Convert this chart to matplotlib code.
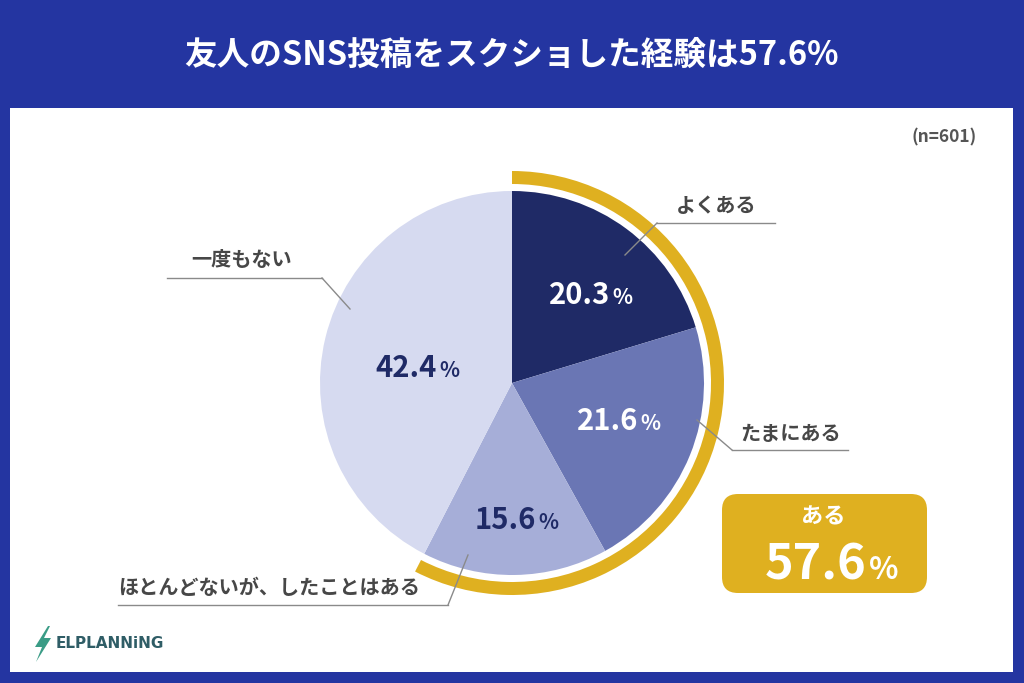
import matplotlib
matplotlib.use("Agg")
import matplotlib.pyplot as plt
from matplotlib.patches import Wedge, FancyBboxPatch, Rectangle, Polygon

plt.rcParams["font.family"] = ["Noto Sans CJK JP", "DejaVu Sans"]

# ----------------------------
# Data
# ----------------------------
title = "友人のSNS投稿をスクショした経験は57.6%"
sample_note = "(n=601)"
labels = ["よくある", "たまにある", "ほとんどないが、したことはある", "一度もない"]
values = [20.3, 21.6, 15.6, 42.4]
yes_label = "ある"
yes_value = 57.6
yes_slices = 3  # first three slices make up "ある"

# ----------------------------
# Styles / layout (pixel coords, y from top)
# ----------------------------
W, H = 1024, 683
BLUE = "#2435a1"
GOLD = "#dfb020"
NAVY = "#1f2a66"
GREY_TEXT = "#474747"
LINE_GREY = "#8a8a8a"
slice_colors = [NAVY, "#6a76b4", "#a6aed8", "#d6daf0"]
pct_colors = ["white", "white", NAVY, NAVY]

CX, CY, R = 512, 383, 192

# number right edge x, baseline y
pct_pos = [(610, 304), (638, 430), (536, 529), (437, 377)]
# label center, underline (x0, x1, y, joint x), leader end point
label_pos = [(716, 205), (791, 433), (269, 587), (242, 260)]
underline = [(657, 775, 223, 657), (732, 848, 450, 732), (118, 448, 605, 448), (167, 322, 278, 322)]
leader_end = [(625, 255), (697, 420), (468, 555), (350, 309)]


def py(y):
    """Pixel y (from top) to data y."""
    return H - y


fig = plt.figure(figsize=(W / 100, H / 100), dpi=100)
fig.patch.set_facecolor(BLUE)
ax = fig.add_axes([0, 0, 1, 1])

# white panel
ax.add_patch(Rectangle((10, py(672)), 1003, 564, facecolor="white", edgecolor="none", zorder=0))

# pie
ax.pie(values, colors=slice_colors, startangle=90, counterclock=False,
       center=(CX, py(CY)), radius=R, wedgeprops=dict(linewidth=0))

# gold ring over the "ある" slices
yes_frac = sum(values[:yes_slices]) / sum(values)
ax.add_patch(Wedge((CX, py(CY)), R + 20, 90 - yes_frac * 360, 90, width=13,
                   facecolor=GOLD, edgecolor="none", zorder=3))

# percent labels
for v, (x, y), c in zip(values, pct_pos, pct_colors):
    ax.text(x, py(y), f"{v:.1f}", ha="right", va="baseline", fontsize=21,
            fontweight="bold", color=c, zorder=4)
    ax.text(x + 2, py(y), "%", ha="left", va="baseline", fontsize=15,
            fontweight="bold", color=c, zorder=4)

# category labels with leader lines
for lab, (lx, ly), (x0, x1, uy, jx), (ex, ey) in zip(labels, label_pos, underline, leader_end):
    ax.text(lx, py(ly), lab, ha="center", va="center", fontsize=14.5,
            fontweight="bold", color=GREY_TEXT, zorder=4)
    ax.plot([x0, x1], [py(uy), py(uy)], color=LINE_GREY, lw=1, zorder=4)
    ax.plot([jx, ex], [py(uy), py(ey)], color=LINE_GREY, lw=1, zorder=4)

# "ある" summary box
ax.add_patch(FancyBboxPatch((722, py(593)), 205, 99,
                            boxstyle="round,pad=0,rounding_size=16",
                            facecolor=GOLD, edgecolor="none", zorder=3))
ax.text(823, py(517), yes_label, ha="center", va="center", fontsize=16,
        fontweight="bold", color="white", zorder=4)
ax.text(866, py(579), f"{yes_value:.1f}", ha="right", va="baseline", fontsize=35,
        fontweight="bold", color="white", zorder=4)
ax.text(869, py(579), "%", ha="left", va="baseline", fontsize=22,
        fontweight="bold", color="white", zorder=4)

# title and sample size
ax.text(W / 2, py(55), title, ha="center", va="center", fontsize=23.5,
        fontweight="bold", color="white")
ax.text(977, py(137), sample_note, ha="right", va="center", fontsize=12.5,
        fontweight="bold", color="#555555")

# logo
bolt = [(48, 626), (35, 647), (42, 647), (36, 662), (51, 638), (44, 638), (50, 626)]
ax.add_patch(Polygon([(x, py(y)) for x, y in bolt], closed=True,
                     facecolor="#3a9c86", edgecolor="none", zorder=4))
ax.text(56, py(643), "ELPLANNiNG", ha="left", va="center", fontsize=11,
        fontweight="bold", color="#2f5d66", family="DejaVu Sans", zorder=4)

ax.set_xlim(0, W)
ax.set_ylim(0, H)
ax.set_aspect("auto")
ax.axis("off")

fig.savefig("out.png", dpi=100, facecolor=BLUE)
plt.close(fig)
